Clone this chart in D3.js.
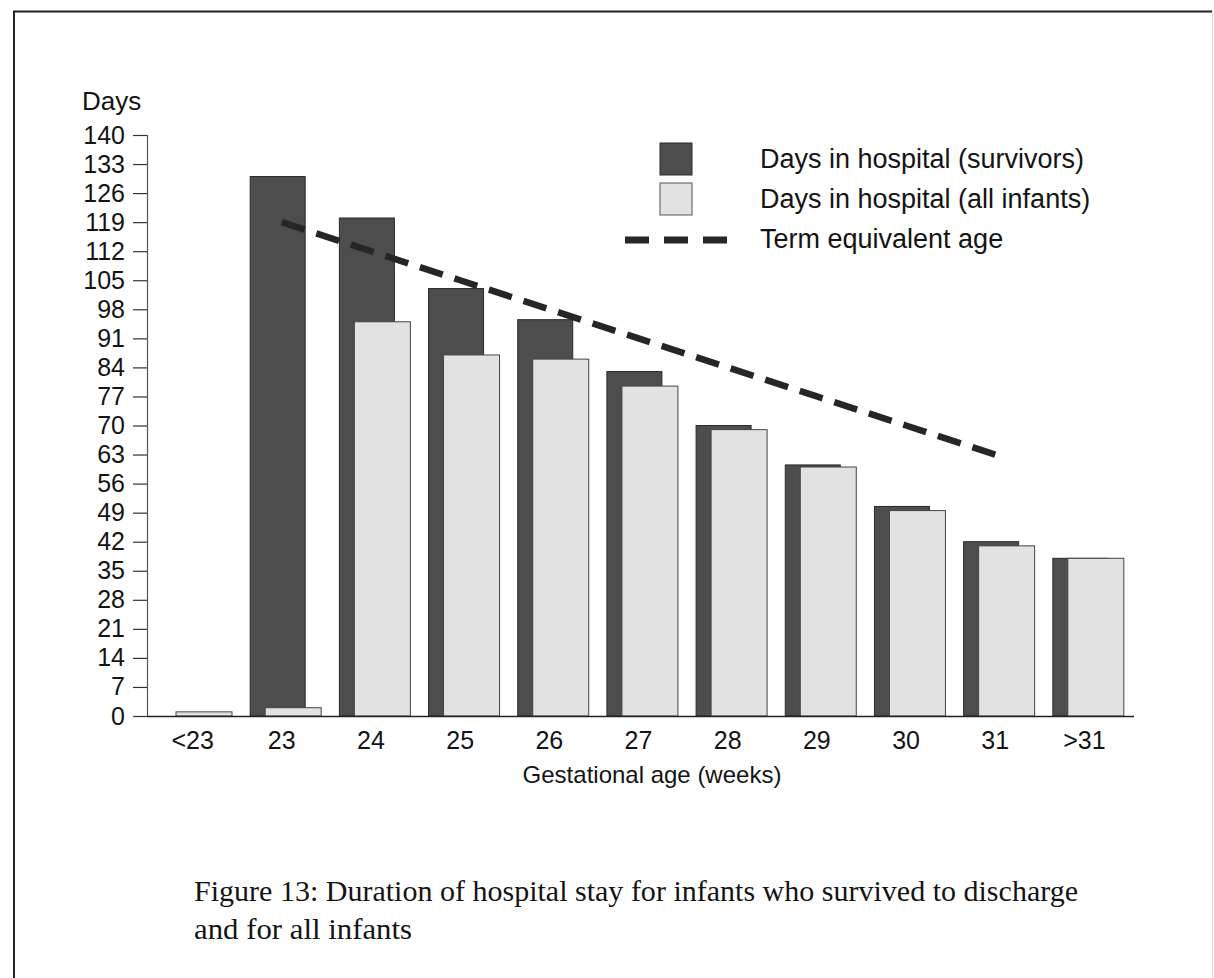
<!DOCTYPE html>
<html><head><meta charset="utf-8">
<script src="https://cdn.jsdelivr.net/npm/d3@7/dist/d3.min.js"></script>
<style>body{margin:0;background:#fff}svg{display:block}</style>
</head><body><svg id="c" width="1214" height="978"></svg>
<script>
const categories = ["<23","23","24","25","26","27","28","29","30","31",">31"];
const survivors = [0, 130, 120, 103, 95.5, 83, 70, 60.5, 50.5, 42, 38];
const allInfants = [1, 2, 95, 87, 86, 79.5, 69, 60, 49.5, 41, 38];
const termCats = ["23","24","25","26","27","28","29","30","31"];
const termAge = [119, 112, 105, 98, 91, 84, 77, 70, 63];
const yTicks = d3.range(0, 141, 7);
const seriesNames = ["Days in hospital (survivors)", "Days in hospital (all infants)", "Term equivalent age"];

const svg = d3.select("#c");
const font = "Liberation Sans, Arial, sans-serif";
const ink = "#141414";

// frame
svg.append("path").attr("d","M14,990 L14,11.5 L1212,11.5")
  .attr("fill","none").attr("stroke","#222").attr("stroke-width",2);
svg.append("line").attr("x1",1212.5).attr("x2",1212.5).attr("y1",11).attr("y2",990)
  .attr("stroke","#ddd").attr("stroke-width",1);

const x = d3.scaleBand().domain(categories).range([148,1129]).padding(0);
const y = d3.scaleLinear().domain([0,140]).range([716,135]);
const bw = x.bandwidth();

// bars
const g = svg.append("g");
g.selectAll(".s").data(categories).enter().append("rect")
  .attr("x", (d)=>x(d)+13).attr("width", 55)
  .attr("y", (d,i)=>y(survivors[i])).attr("height",(d,i)=>y(0)-y(survivors[i]))
  .attr("fill","#4d4d4d").attr("stroke","#2a2a2a").attr("stroke-width",1);
g.selectAll(".a").data(categories).enter().append("rect")
  .attr("x", (d)=>x(d)+28).attr("width", 56)
  .attr("y", (d,i)=>y(allInfants[i])).attr("height",(d,i)=>y(0)-y(allInfants[i]))
  .attr("fill","#e2e2e2").attr("stroke","#444").attr("stroke-width",1);

// axes
const ya = svg.append("g").attr("transform","translate(147,0)")
  .call(d3.axisLeft(y).tickValues(yTicks).tickSize(14).tickPadding(8));
ya.select(".domain").attr("stroke","#555").attr("stroke-width",1.2);
ya.selectAll(".tick line").attr("stroke","#333").attr("stroke-width",1.2);
ya.selectAll("text").attr("font-family",font).attr("font-size",25).attr("fill",ink);

const xa = svg.append("g").attr("transform","translate(0,716)")
  .call(d3.axisBottom(x).tickSize(0).tickPadding(15));
xa.select(".domain").attr("d","M147,0.5H1134").attr("stroke","#222").attr("stroke-width",1.5);
xa.selectAll("text").attr("font-family",font).attr("font-size",25).attr("fill",ink);

svg.append("text").attr("x",82).attr("y",110).text("Days")
  .attr("font-family",font).attr("font-size",26).attr("fill",ink);
svg.append("text").attr("x",652).attr("y",783).attr("text-anchor","middle").text("Gestational age (weeks)")
  .attr("font-family",font).attr("font-size",24).attr("fill",ink);

// term line
const line = d3.line().x((d,i)=>x(termCats[i])+bw/2).y(d=>y(d));
const tl = svg.append("path").datum(termAge).attr("d",line)
  .attr("fill","none").attr("stroke","#262626").attr("stroke-width",6.5);
const L = tl.node().getTotalLength();
const nD = 21, dLen = 24;
tl.attr("stroke-dasharray", dLen + " " + ((L - nD*dLen)/(nD-1)));

// legend
const lg = svg.append("g");
lg.append("rect").attr("x",660).attr("y",143).attr("width",32).attr("height",32)
  .attr("fill","#4d4d4d").attr("stroke","#2a2a2a");
lg.append("rect").attr("x",660).attr("y",183).attr("width",32).attr("height",32)
  .attr("fill","#e2e2e2").attr("stroke","#555");
lg.append("line").attr("x1",625).attr("x2",727).attr("y1",240).attr("y2",240)
  .attr("stroke","#262626").attr("stroke-width",7).attr("stroke-dasharray","24 15");
seriesNames.forEach((n,i)=>{
  lg.append("text").attr("x",760).attr("y",168+i*40).text(n)
    .attr("font-family",font).attr("font-size",27).attr("fill",ink);
});

// caption
const serif = "Liberation Serif, Times New Roman, serif";
svg.append("text").attr("x",194).attr("y",901).text("Figure 13: Duration of hospital stay for infants who survived to discharge")
  .attr("font-family",serif).attr("font-size",29).attr("fill",ink).attr("textLength",884).attr("lengthAdjust","spacingAndGlyphs");
svg.append("text").attr("x",194).attr("y",939).text("and for all infants")
  .attr("font-family",serif).attr("font-size",29).attr("fill",ink).attr("textLength",218).attr("lengthAdjust","spacingAndGlyphs");
</script></body></html>
